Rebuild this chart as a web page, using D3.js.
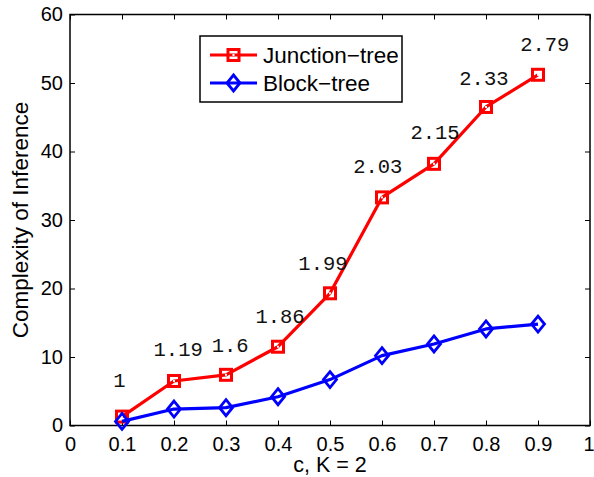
<!DOCTYPE html>
<html><head><meta charset="utf-8">
<script src="https://cdn.jsdelivr.net/npm/d3@7"></script>
<style>body{margin:0;background:#fff}svg{display:block}</style>
</head><body>
<svg id="c" width="594" height="477"></svg>
<script>
const xValues = [0.1,0.2,0.3,0.4,0.5,0.6,0.7,0.8,0.9];
const junctionTree = [1.3,6.5,7.4,11.5,19.3,33.3,38.2,46.5,51.2];
const blockTree = [0.6,2.4,2.6,4.2,6.7,10.2,11.9,14.1,14.8];
const ratioLabels = ["1","1.19","1.6","1.86","1.99","2.03","2.15","2.33","2.79"];
const labelX = [0.095,0.208,0.308,0.404,0.4865,0.592,0.702,0.796,0.913];
const labelY = [5.66,10.15,10.69,14.92,22.7,36.86,41.8,49.7,54.7];
const xTicks = [0,0.1,0.2,0.3,0.4,0.5,0.6,0.7,0.8,0.9,1];
const xTickLabels = ["0","0.1","0.2","0.3","0.4","0.5","0.6","0.7","0.8","0.9","1"];
const yTicks = [0,10,20,30,40,50,60];
const seriesNames = ["Junction\u2212tree","Block\u2212tree"];

const svg = d3.select("#c");
const L=70,R=590,T=14.5,B=425.5;
const x = d3.scaleLinear().domain([0,1]).range([L,R]);
const y = d3.scaleLinear().domain([0,60]).range([B,T]);
const font = "Helvetica, Arial, 'Liberation Sans', sans-serif";

// axes with inward ticks
const tl=5;
const gB = svg.append("g").attr("transform",`translate(0,${B})`)
  .call(d3.axisBottom(x).tickValues(xTicks).tickFormat((d,i)=>xTickLabels[i]).tickSizeInner(-tl).tickSizeOuter(0).tickPadding(11));
const gT = svg.append("g").attr("transform",`translate(0,${T})`)
  .call(d3.axisTop(x).tickValues(xTicks).tickFormat("").tickSizeInner(-tl).tickSizeOuter(0));
const gL = svg.append("g").attr("transform",`translate(${L},0)`)
  .call(d3.axisLeft(y).tickValues(yTicks).tickSizeInner(-tl).tickSizeOuter(0).tickPadding(7));
const gR = svg.append("g").attr("transform",`translate(${R},0)`)
  .call(d3.axisRight(y).tickValues(yTicks).tickFormat("").tickSizeInner(-tl).tickSizeOuter(0));
[gB,gT,gL,gR].forEach(g=>{
  g.select(".domain").remove();
  g.selectAll(".tick line").attr("stroke","#000").attr("stroke-width",1);
  g.selectAll(".tick text").attr("fill","#000").style("font-family",font).style("font-size","20px");
});
gB.selectAll(".tick text").filter(d=>d===1).attr("dx","-1.5");
svg.append("rect").attr("x",L).attr("y",T).attr("width",R-L).attr("height",B-T)
  .attr("fill","none").attr("stroke","#000").attr("stroke-width",1.5);

// axis titles
svg.append("text").attr("x",(L+R)/2).attr("y",472).attr("text-anchor","middle")
  .style("font-family",font).style("font-size","21.5px").text("c, K = 2");
svg.append("text").attr("transform",`translate(28,${(T+B)/2}) rotate(-90)`).attr("text-anchor","middle")
  .style("font-family",font).style("font-size","22.5px").text("Complexity of Inference");

const line = d3.line().x((d,i)=>x(xValues[i])).y(d=>y(d));
function drawSeries(data,color,marker){
  svg.append("path").datum(data).attr("d",line).attr("fill","none")
    .attr("stroke",color).attr("stroke-width",3.2).attr("stroke-linejoin","round");
  const g = svg.append("g");
  data.forEach((d,i)=>marker(g,x(xValues[i]),y(d),color));
}
function square(g,cx,cy,color){
  g.append("rect").attr("x",cx-5.5).attr("y",cy-5.5).attr("width",11).attr("height",11)
    .attr("fill","none").attr("stroke",color).attr("stroke-width",3);
  g.append("rect").attr("x",cx-1).attr("y",cy-1).attr("width",2).attr("height",2).attr("fill","#fff");
}
function diamond(g,cx,cy,color){
  g.append("path").attr("d",`M${cx},${cy-8}L${cx+6.5},${cy}L${cx},${cy+8}L${cx-6.5},${cy}Z`)
    .attr("fill","none").attr("stroke",color).attr("stroke-width",2.8);
}
drawSeries(junctionTree,"#ff0000",square);
drawSeries(blockTree,"#0000ff",diamond);

// ratio labels
svg.append("g").selectAll("text").data(ratioLabels).join("text")
  .attr("x",(d,i)=>x(labelX[i])).attr("y",(d,i)=>y(labelY[i]))
  .attr("text-anchor","middle")
  .style("font-family","'Liberation Mono','Courier New',monospace").style("font-size","20.5px")
  .attr("fill","#111").text(d=>d);

// legend
const lg = svg.append("g");
lg.append("rect").attr("x",200).attr("y",36).attr("width",202).attr("height",66)
  .attr("fill","#fff").attr("stroke","#000").attr("stroke-width",1.5);
const legendColors=["#ff0000","#0000ff"];
const legendMarkers=[square,diamond];
seriesNames.forEach((n,i)=>{
  const ly = 55+i*28;
  lg.append("line").attr("x1",210).attr("x2",257).attr("y1",ly).attr("y2",ly)
    .attr("stroke",legendColors[i]).attr("stroke-width",3.2);
  legendMarkers[i](lg,233.5,ly,legendColors[i]);
  lg.append("text").attr("x",263).attr("y",ly+8).style("font-family",font).style("font-size","22.5px").text(n);
});
</script>
</body></html>
